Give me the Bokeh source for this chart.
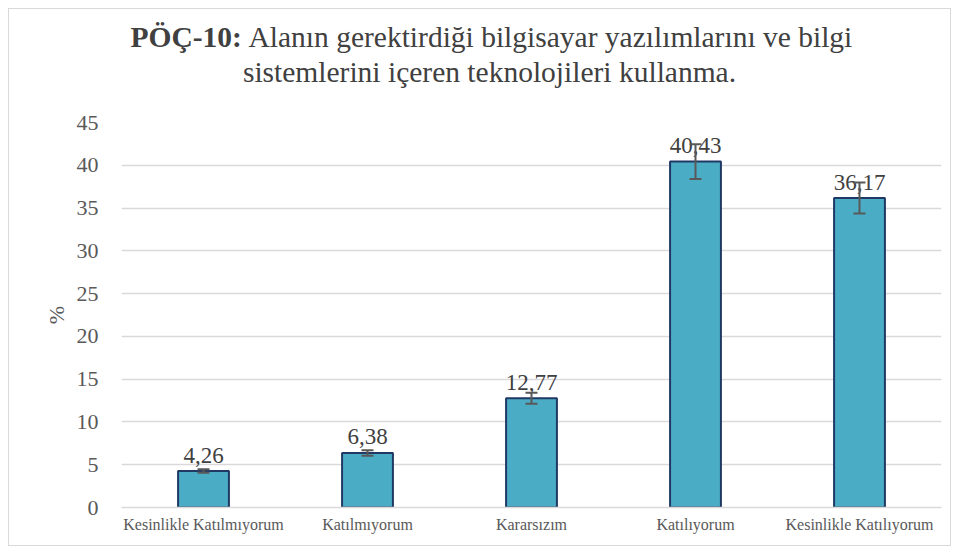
from bokeh.plotting import figure
from bokeh.layouts import column
from bokeh.models import ColumnDataSource, Whisker, TeeHead, FixedTicker, Range1d, FactorRange
from bokeh.core.properties import value
from bokeh.embed import file_html
from bokeh.resources import INLINE

categories = ["Kesinlikle Katılmıyorum", "Katılmıyorum", "Kararsızım", "Katılıyorum", "Kesinlikle Katılıyorum"]
values = [4.26, 6.38, 12.77, 40.43, 36.17]
errors = [0.21, 0.32, 0.64, 2.02, 1.81]
y_ticks = [0, 5, 10, 15, 20, 25, 30, 35, 40, 45]
title_bold = "PÖÇ-10:"
title_rest = "Alanın gerektirdiği bilgisayar yazılımlarını ve bilgi"
title_line2 = "sistemlerini içeren teknolojileri kullanma."

labels = [f"{v:.2f}".replace(".", ",") for v in values]
src = ColumnDataSource(dict(
    cat=categories, val=values, lab=labels,
    upper=[v + e for v, e in zip(values, errors)],
    lower=[v - e for v, e in zip(values, errors)],
))

FONT = "'Liberation Serif', 'Times New Roman', serif"
W = 941
HT = 99
HM = 437

# ---- title strip (frame aligned with the chart frame: page x 121..941) ----
t = figure(width=W, height=HT, x_range=Range1d(121, 941), y_range=Range1d(0, HT),
           output_backend="svg", toolbar_location=None, min_border=0)
t.axis.visible = False
t.grid.visible = False
t.outline_line_color = None
TS = "29.5px"
t.text(x=[130], y=[71.5], text=[title_bold], text_font=value(FONT), text_font_size=TS,
       text_font_style="bold", text_color="#404040", text_align="left", text_baseline="alphabetic")
t.text(x=[248], y=[71.5], text=[title_rest], text_font=value(FONT), text_font_size=TS,
       text_color="#404040", text_align="left", text_baseline="alphabetic")
t.text(x=[489], y=[37], text=[title_line2], text_font=value(FONT), text_font_size=TS,
       text_color="#404040", text_align="center", text_baseline="alphabetic")

# ---- main chart ----
p = figure(width=W, height=HM, x_range=FactorRange(*categories, range_padding=0),
           y_range=Range1d(0, 45), output_backend="svg", toolbar_location=None,
           min_border_left=112, min_border_right=9, min_border_top=14, min_border_bottom=38)
p.outline_line_color = None

p.vbar(x="cat", top="val", width=0.31, source=src, fill_color="#4BACC6",
       line_color="#1F3864", line_width=2)

w = Whisker(base="cat", upper="upper", lower="lower", source=src, level="overlay",
            line_color="#595959", line_width=2,
            upper_head=TeeHead(size=12, line_color="#595959", line_width=2),
            lower_head=TeeHead(size=12, line_color="#595959", line_width=2))
p.add_layout(w)

p.text(x="cat", y="val", text="lab", source=src, text_align="center", text_baseline="alphabetic",
       y_offset=-16, text_font=value(FONT), text_font_size="23px", text_color="#404040")

p.yaxis.ticker = FixedTicker(ticks=y_ticks)
p.yaxis.axis_line_color = None
p.yaxis.major_tick_line_color = None
p.yaxis.minor_tick_line_color = None
p.yaxis.major_label_text_font = FONT
p.yaxis.major_label_text_font_size = "22px"
p.yaxis.major_label_text_color = "#595959"
p.yaxis.major_label_standoff = 17
p.yaxis.axis_label = "%"
p.yaxis.axis_label_text_font = FONT
p.yaxis.axis_label_text_font_size = "22px"
p.yaxis.axis_label_text_font_style = "normal"
p.yaxis.axis_label_text_color = "#595959"
p.yaxis.axis_label_standoff = 5

p.xaxis.axis_line_color = "#D9D9D9"
p.xaxis.axis_line_width = 1.5
p.xaxis.major_tick_line_color = None
p.xaxis.minor_tick_line_color = None
p.xaxis.major_label_text_font = FONT
p.xaxis.major_label_text_font_size = "16px"
p.xaxis.major_label_text_color = "#595959"
p.xaxis.major_label_standoff = 2

p.xgrid.grid_line_color = None
p.ygrid.grid_line_color = "#D9D9D9"
p.ygrid.grid_line_width = 1.5

layout = column(t, p, spacing=0, styles={"border": "1px solid #D9D9D9", "margin": "8px"})
open("out.html", "w").write(file_html(layout, INLINE))
